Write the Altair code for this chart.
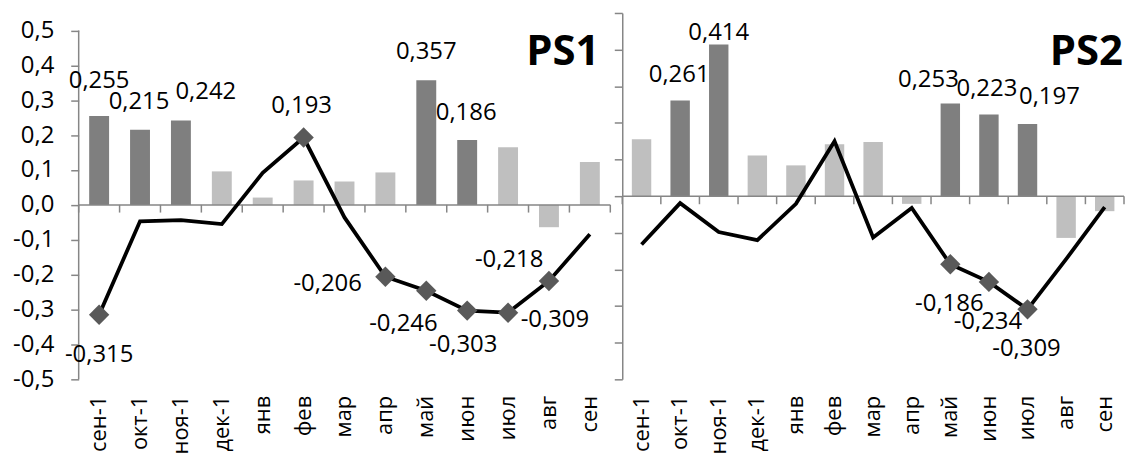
import altair as alt
import pandas as pd

months = ["сен-1", "окт-1", "ноя-1", "дек-1", "янв", "фев", "мар",
          "апр", "май", "июн", "июл", "авг", "сен"]

ps1_bars = [0.255, 0.215, 0.242, 0.096, 0.021, 0.070, 0.067, 0.093, 0.357, 0.186, 0.165, -0.064, 0.123]
ps1_bar_sig = [1, 1, 1, 0, 0, 0, 0, 0, 1, 1, 0, 0, 0]
ps1_line = [-0.315, -0.047, -0.044, -0.055, 0.092, 0.193, -0.036, -0.206, -0.246, -0.303, -0.309, -0.218, -0.084]
ps1_line_sig = [1, 0, 0, 0, 0, 1, 0, 1, 1, 1, 1, 1, 0]

ps2_bars = [0.155, 0.261, 0.414, 0.111, 0.084, 0.142, 0.148, -0.021, 0.253, 0.223, 0.197, -0.114, -0.041]
ps2_bar_sig = [0, 1, 1, 0, 0, 0, 0, 0, 1, 1, 1, 0, 0]
ps2_line = [-0.132, -0.019, -0.098, -0.120, -0.021, 0.150, -0.113, -0.032, -0.186, -0.234, -0.309, -0.172, -0.030]
ps2_line_sig = [0, 0, 0, 0, 0, 0, 0, 0, 1, 1, 1, 0, 0]

y_ticks = [-0.5, -0.4, -0.3, -0.2, -0.1, 0.0, 0.1, 0.2, 0.3, 0.4, 0.5]

FONT = "Open Sans"
DARK = "#7f7f7f"
LIGHT = "#bfbfbf"
AXIS_GRAY = "#868686"
DIAMOND = "#595959"
LBL = 24
H = 368


def fmt(v):
    return f"{v:.3f}".replace(".", ",")


def make_df(bars, bsig, line, lsig):
    return pd.DataFrame({
        "m": months,
        "bar": bars,
        "bsig": ["s" if s else "n" for s in bsig],
        "line": line,
        "lsig": lsig,
        "bar_lbl": [fmt(v) for v in bars],
        "line_lbl": [fmt(v) for v in line],
    })


def panel(df, name, width, ydomain, show_labels, bar_labels, line_labels, bar_size, title_off):
    yscale = alt.Scale(domain=ydomain, nice=False, zero=False)
    xscale = alt.Scale(paddingInner=0, paddingOuter=0)
    xaxis = alt.Axis(labelAngle=-90, domain=False, ticks=False,
                     labelPadding=16, labelFontSize=22,
                     labelFont=FONT, labelColor="black", title=None)
    label_expr = ("(datum.value < -0.001 ? '-' : '') + "
                  "replace(format(abs(datum.value), '.1f'), '.', ',')")
    yaxis = alt.Axis(values=y_ticks, grid=False, domain=not show_labels,
                     domainColor=AXIS_GRAY, domainWidth=1.5,
                     tickColor=AXIS_GRAY, tickWidth=1.5, tickSize=8,
                     labels=show_labels, labelExpr=label_expr,
                     labelFontSize=LBL, labelFont=FONT, labelColor="black",
                     labelPadding=17, title=None)

    def X(**kw):
        return alt.X("m:N", sort=months, scale=xscale, axis=xaxis, title=None, **kw)

    def Yf(field):
        return alt.Y(field, scale=yscale, axis=yaxis, title=None)

    def Yd(v):
        return alt.Y(datum=v, scale=yscale, axis=yaxis, title=None)

    base = alt.Chart(df)
    bars = base.mark_bar(size=bar_size).encode(
        x=X(),
        y=Yf("bar:Q"),
        color=alt.Color("bsig:N", scale=alt.Scale(domain=["s", "n"], range=[DARK, LIGHT]),
                        legend=None),
    )
    layers = [bars]

    if show_labels:
        layers.append(base.mark_rule(color=AXIS_GRAY, strokeWidth=1.5).encode(
            x=alt.value(0), y=Yd(-0.5), y2=alt.Y2(datum=0.5),
        ).transform_filter("datum.m == 'сен-1'"))

    zero = base.mark_rule(color=AXIS_GRAY, strokeWidth=1.5).encode(
        x=alt.value(0), x2=alt.value(width), y=Yd(0),
    ).transform_filter("datum.m == 'сен-1'")
    ticks = base.mark_rule(color=AXIS_GRAY, strokeWidth=1.5).encode(
        x=X(bandPosition=0), y=Yd(0), y2=alt.Y2(datum=-0.022),
    )
    last_tick = base.mark_rule(color=AXIS_GRAY, strokeWidth=1.5).encode(
        x=X(bandPosition=1), y=Yd(0), y2=alt.Y2(datum=-0.022),
    ).transform_filter("datum.m == 'сен'")
    layers += [zero, ticks, last_tick]

    line = base.mark_line(color="black", strokeWidth=3.8).encode(x=X(), y=Yf("line:Q"))
    pts = base.mark_point(shape="diamond", filled=True, size=420, color=DIAMOND,
                          opacity=1).encode(
        x=X(), y=Yf("line:Q")
    ).transform_filter("datum.lsig == 1")
    layers += [line, pts]

    for cat, dx, dy in bar_labels:
        layers.append(base.mark_text(dx=dx, dy=dy, fontSize=LBL, font=FONT,
                                     color="black").encode(
            x=X(), y=Yf("bar:Q"), text="bar_lbl:N"
        ).transform_filter(alt.datum.m == cat))
    for cat, dx, dy in line_labels:
        layers.append(base.mark_text(dx=dx, dy=dy, fontSize=LBL, font=FONT,
                                     color="black").encode(
            x=X(), y=Yf("line:Q"), text="line_lbl:N"
        ).transform_filter(alt.datum.m == cat))

    title = base.mark_text(text=name, font=FONT, fontSize=42, fontWeight="bold",
                           align="right", baseline="alphabetic",
                           color="black").encode(
        x=alt.value(width - title_off), y=alt.value(52)
    ).transform_filter("datum.m == 'сен-1'")
    layers.append(title)

    return alt.layer(*layers).properties(width=width, height=H)


df1 = make_df(ps1_bars, ps1_bar_sig, ps1_line, ps1_line_sig)
df2 = make_df(ps2_bars, ps2_bar_sig, ps2_line, ps2_line_sig)

left = panel(
    df1, "PS1", 534, [-0.5, 0.55], True,
    [("сен-1", 0, -35), ("окт-1", -1, -28), ("ноя-1", 25, -29), ("май", 0, -28), ("июн", -1, -27)],
    [("сен-1", 0, 40), ("фев", -2, -32), ("апр", -58, 7), ("май", -23, 33),
     ("июн", -4, 35), ("июл", 47, 7), ("авг", -40, -21)],
    20, 11,
)
right = panel(
    df2, "PS2", 504, [-0.5, 0.5], False,
    [("окт-1", -1, -26), ("ноя-1", 0, -12), ("май", -22, -24), ("июн", -2, -26), ("июл", 22, -27)],
    [("май", -1, 40), ("июн", -1, 40), ("июл", -1, 40)],
    19.5, 1,
)

chart = alt.hconcat(left, right, spacing=2).resolve_scale(
    y="independent", color="independent"
).properties(
    padding={"left": 4, "top": 3, "right": 0, "bottom": 0}
).configure_view(stroke=None)

chart.save("out.html", embed_options={"renderer": "svg", "actions": False})
